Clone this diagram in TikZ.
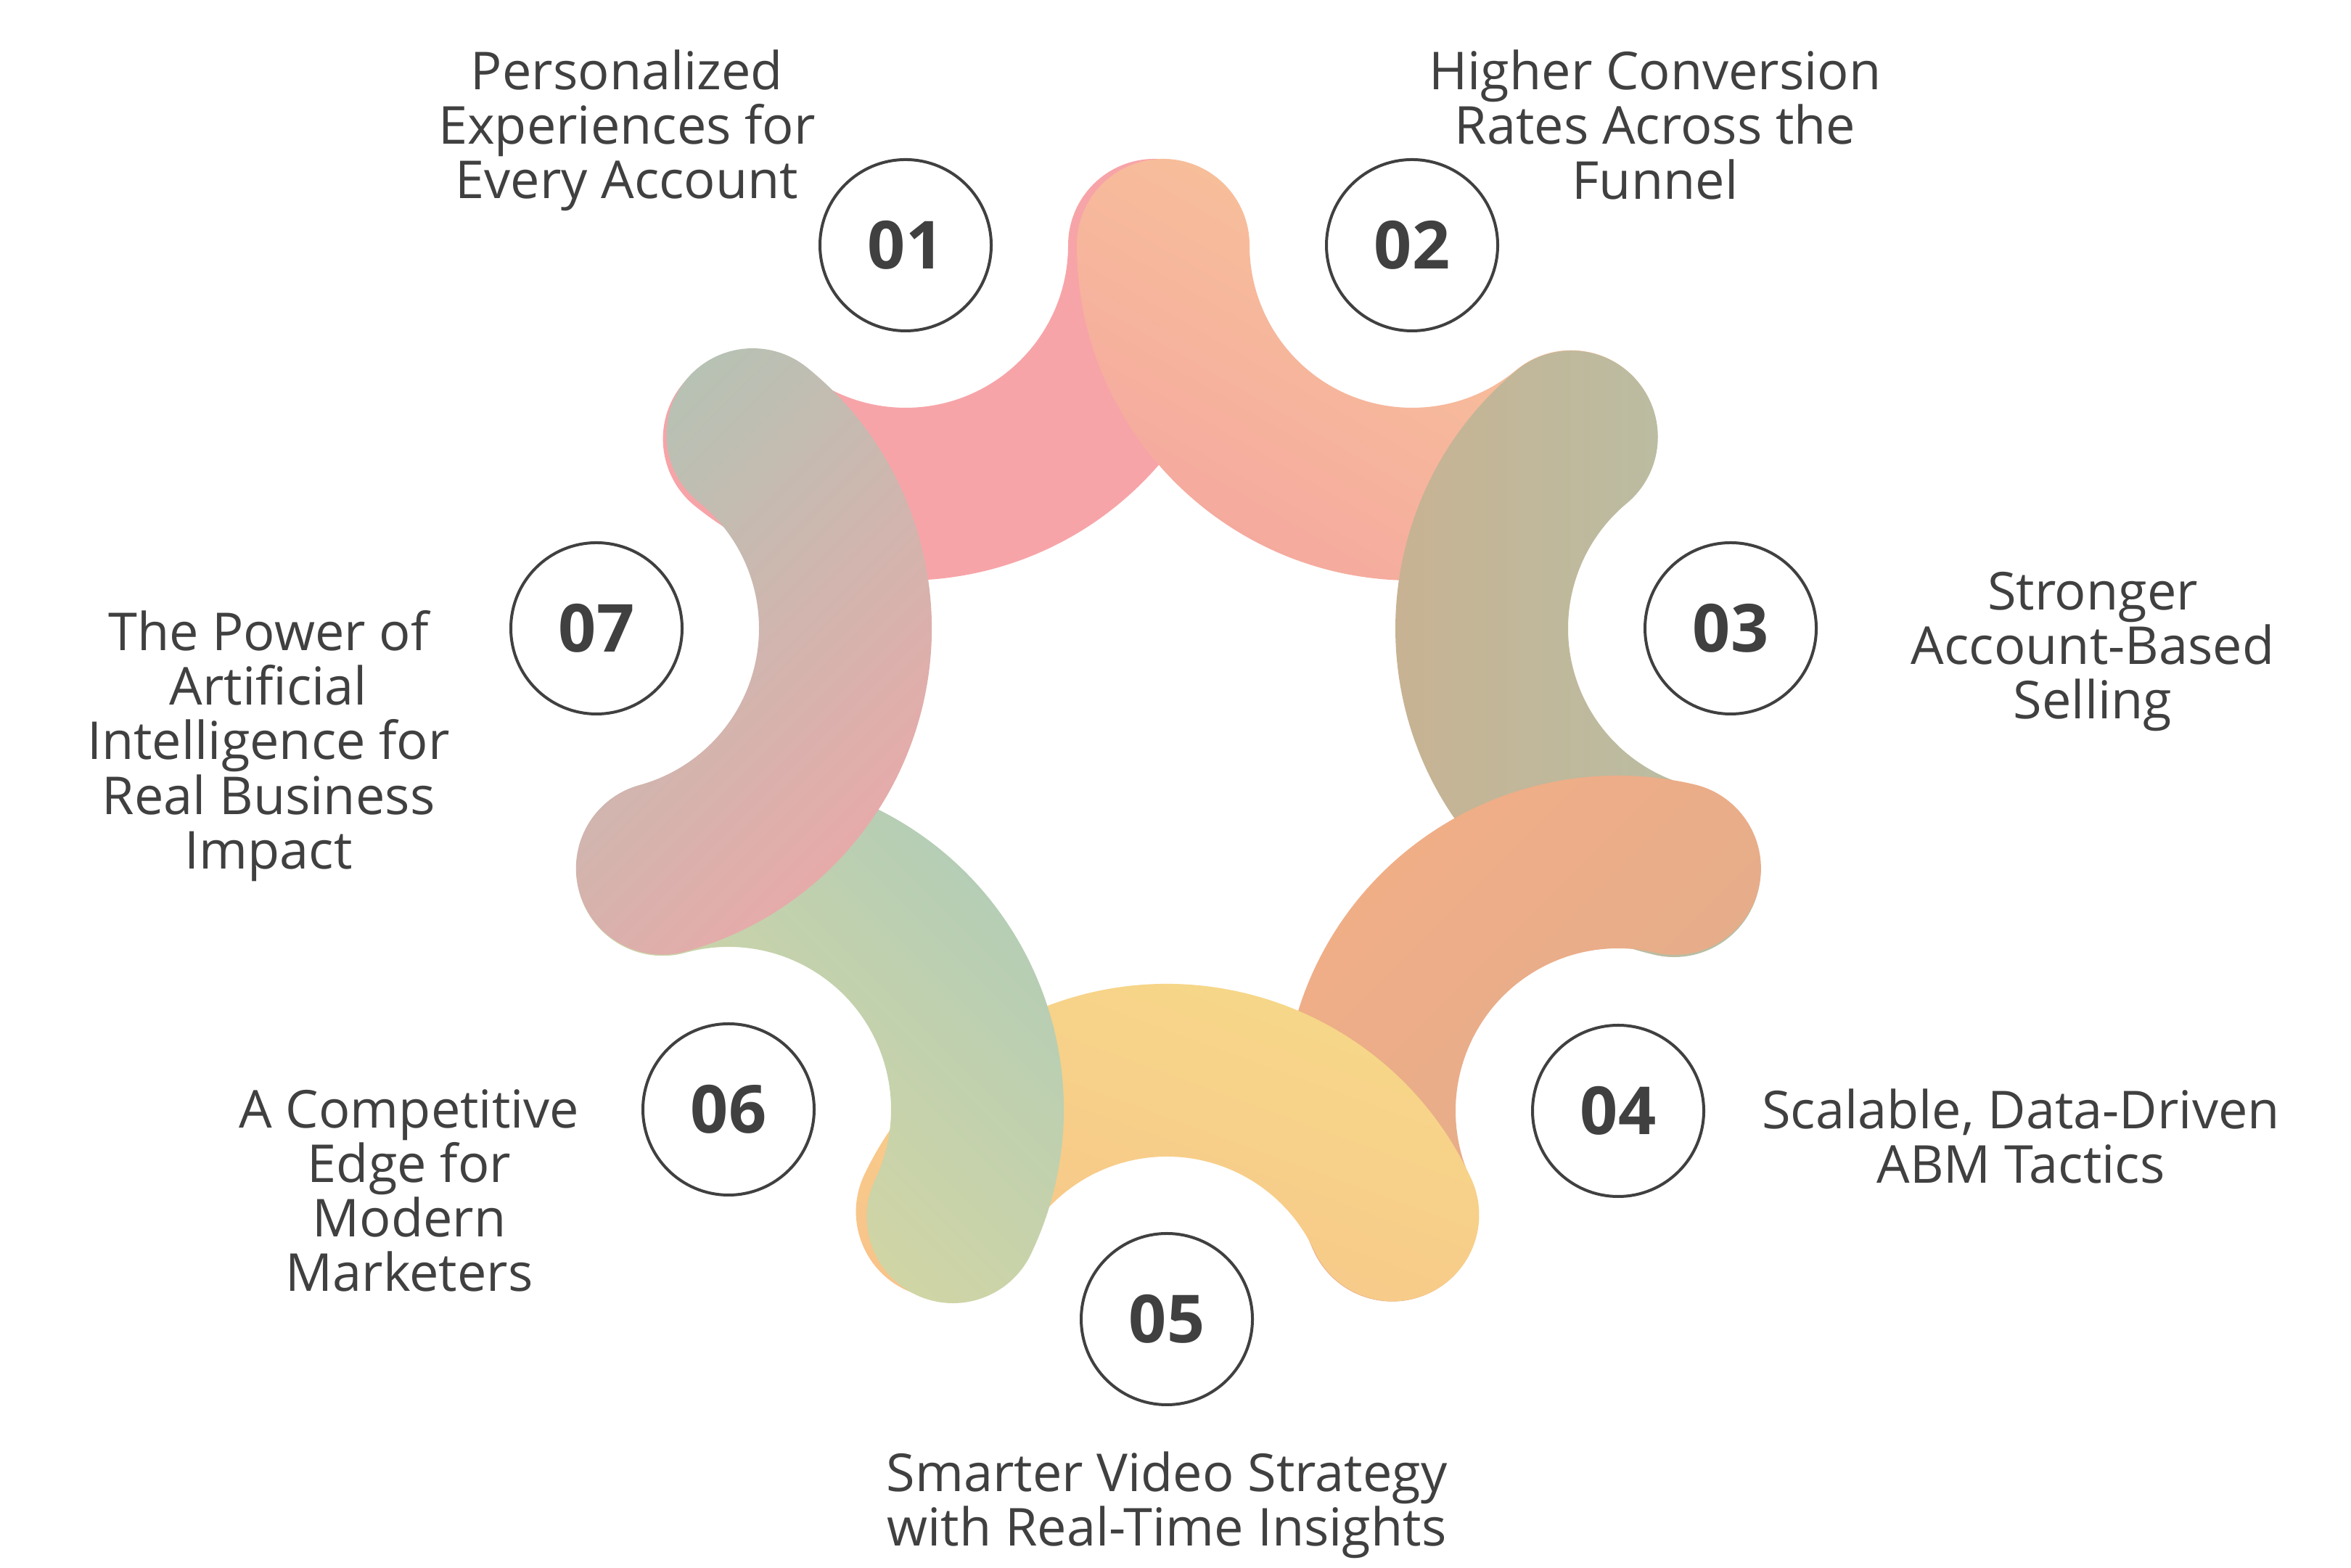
\documentclass[tikz,border=0pt]{standalone}
\usepackage{fontspec}
\setmainfont{Open Sans}
\usetikzlibrary{positioning}

\definecolor{ink}{HTML}{404040}
\definecolor{rose}{HTML}{F7A4A8}
\definecolor{peach}{HTML}{F8C898}
\definecolor{blush}{HTML}{F5A89F}
\definecolor{khaki}{HTML}{C9B190}
\definecolor{sage}{HTML}{B6C0A8}
\definecolor{salmon}{HTML}{F2AE86}
\definecolor{clay}{HTML}{E0AC8C}
\definecolor{butter}{HTML}{F6DA88}
\definecolor{apricot}{HTML}{F8C48A}
\definecolor{mint}{HTML}{B0CCB8}
\definecolor{pear}{HTML}{DCD89E}
\definecolor{stone}{HTML}{B6C2B4}
\definecolor{flush}{HTML}{ECA8A8}

\newcommand{\rmid}{3.43}  % radius of the middle of a petal
\newcommand{\rhalf}{1.19} % half the width of a petal

% one petal: centre, start angle, end angle, shading
\newcommand{\petal}[4]{%
  \shade[#4] (#1) ++(#2:\rmid+\rhalf)
    arc[start angle=#2, end angle=#3, radius=\rmid+\rhalf]
    arc[start angle=#3, end angle=#3+180, radius=\rhalf]
    arc[start angle=#3, end angle=#2, radius=\rmid-\rhalf]
    arc[start angle=#2+180, end angle=#2+360, radius=\rhalf] -- cycle;
}

\begin{document}
\begin{tikzpicture}[
    x = 1cm, y = 1cm, % one unit is 100 px of the picture
    line join = round
    ]

    \tikzset{num/.style={
    circle,
    draw = ink,
    line width = 0.04cm,
    minimum size = 2.36cm,
    inner sep = 0pt,
    text = ink,
    font = \fontsize{26}{30}\selectfont\bfseries
    }}
    \tikzset{note/.style={
    align = center,
    text = ink,
    font = \fontsize{20.5}{21.4}\selectfont
    }}

    \fill[white] (0,0) rectangle (32.4,21.6);
    \useasboundingbox (0,0) rectangle (32.4,21.6);

    % centres of the seven rings
    \coordinate (c1) at (12.48,18.22);
    \coordinate (c2) at (19.46,18.22);
    \coordinate (c3) at (23.85,12.94);
    \coordinate (c4) at (22.30,6.29);
    \coordinate (c5) at (16.08,3.42);
    \coordinate (c6) at (10.04,6.31);
    \coordinate (c7) at (8.22,12.94);

    % petals, each one over the one before
    \petal{c1}{231.1}{360}{top color=rose, bottom color=rose}
    \petal{c2}{180}{309.74}{top color=peach, bottom color=blush, shading angle=-30}
    \petal{c3}{129.74}{256.88}{top color=khaki, bottom color=sage, shading angle=90}
    \petal{c4}{76.88}{204.77}{top color=salmon, bottom color=clay, shading angle=45}
    \petal{c5}{24.77}{154.43}{top color=butter, bottom color=apricot, shading angle=-20}
    \petal{c6}{-25.57}{105.35}{top color=mint, bottom color=pear, shading angle=-45}
    \petal{c7}{-74.65}{51.1}{top color=stone, bottom color=flush, shading angle=45}

    \node[num] (n1) at (c1) {01};
    \node[num] (n2) at (c2) {02};
    \node[num] (n3) at (c3) {03};
    \node[num] (n4) at (c4) {04};
    \node[num] (n5) at (c5) {05};
    \node[num] (n6) at (c6) {06};
    \node[num] (n7) at (c7) {07};

    \node[note] (t1) at (8.64,19.80) {Personalized\\Experiences for\\Every Account};
    \node[note] (t2) at (22.81,19.88) {Higher Conversion\\Rates Across the\\Funnel};
    \node[note] (t3) at (28.84,12.62) {Stronger\\Account-Based\\Selling};
    \node[note] (t4) at (27.85,5.94) {Scalable, Data-Driven\\ABM Tactics};
    \node[note] (t5) at (16.08,0.86) {Smarter Video Strategy\\with Real-Time Insights};
    \node[note] (t6) at (5.64,5.19) {A Competitive\\Edge for\\Modern\\Marketers};
    \node[note] (t7) at (3.70,11.32) {The Power of\\Artificial\\Intelligence for\\Real Business\\Impact};
\end{tikzpicture}
\end{document}
